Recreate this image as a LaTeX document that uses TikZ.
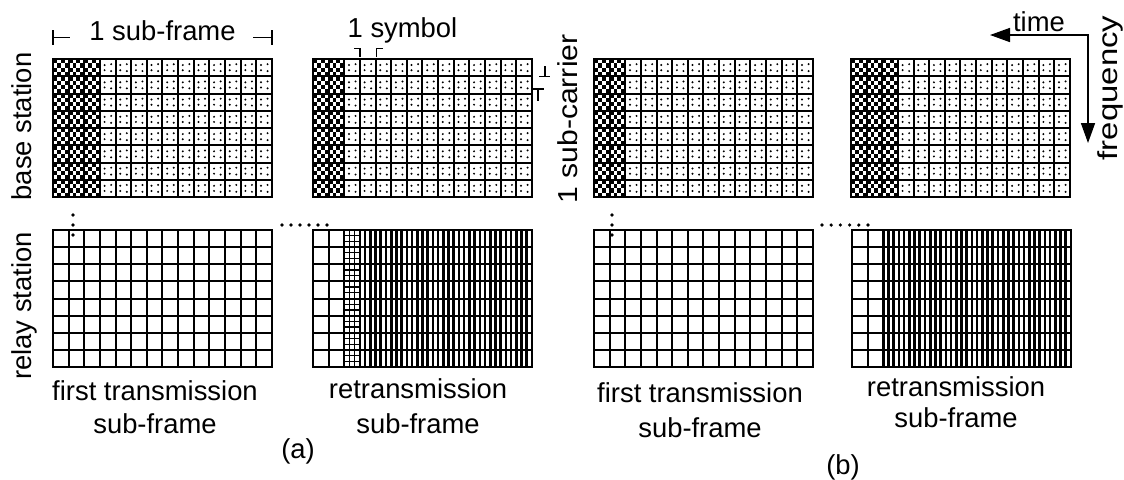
\documentclass[tikz,border=0pt]{standalone}
\usepackage{fontspec}
\setmainfont{Liberation Sans}
\usetikzlibrary{arrows.meta}

\begin{document}
\begin{tikzpicture}[x=0.5pt,y=-0.5pt,
  cell/.style={line width=1pt},
  fine/.style={line width=0.6pt},
  dense/.style={line width=1.3pt},
  spanline/.style={line width=0.8pt},
  axis/.style={line width=0.8pt,line cap=rect,-{Triangle[length=10pt,width=7pt]}},
  lbl/.style={font=\fontsize{13.7}{16}\selectfont,inner sep=0pt}]
\useasboundingbox (0,0) rectangle (1124,479);
\def\cw{15.64}

% base station sub-frames: left edge / control symbols
\foreach \gx/\nc in {53/3,313/2,594/2,851/3}{
  \pgfmathtruncatemacro\nq{4*\nc-1}
  \foreach \i in {0,...,\nq}
    \foreach \j in {0,...,31}{
      \pgfmathtruncatemacro\odd{mod(\i+\j,2)}
      \ifnum\odd=0
        \fill (\gx+\i*\cw/4,59+\j*17.25/4) rectangle ++(\cw/4,17.25/4);
      \fi}
  \foreach \c in {\nc,...,13}
    \foreach \r in {0,...,7}
      \foreach \u/\v in {0.3/0.35,0.3/0.65,0.72/0.3,0.72/0.7}
        \fill (\gx+\c*\cw+\u*\cw,59+\r*17.25+\v*17.25) circle (0.55pt);
  \foreach \c in {0,...,14} \draw[cell] (\gx+\c*\cw,59) -- (\gx+\c*\cw,197);
  \foreach \r in {0,...,8} \draw[cell] (\gx,59+\r*17.25) -- (\gx+219,59+\r*17.25);
  \draw[cell] (\gx,59) rectangle (\gx+219,197);
}

% relay station sub-frames
\foreach \gx in {53,313,594,852}{
  \foreach \c in {0,...,14} \draw[cell] (\gx+\c*\cw,230) -- (\gx+\c*\cw,367);
  \foreach \r in {0,...,8} \draw[cell] (\gx,230+\r*17.125) -- (\gx+219,230+\r*17.125);
  \draw[cell] (\gx,230) rectangle (\gx+219,367);
}

% (a) retransmission: one split symbol, then dense symbols
\foreach \k in {1,2} \draw[fine] (313+2*\cw+\k*\cw/3,230) -- (313+2*\cw+\k*\cw/3,367);
\foreach \k in {1,...,23} \draw[fine] (313+2*\cw,230+\k*17.125/3) -- (313+3*\cw,230+\k*17.125/3);
\foreach \c in {3,...,13}
  \foreach \k in {0,1,2} \draw[dense] (313+\c*\cw+\k*\cw/3,230) -- (313+\c*\cw+\k*\cw/3,367);

% (b) retransmission
\foreach \c in {2,...,13}
  \foreach \k in {0,1,2} \draw[dense] (852+\c*\cw+\k*\cw/3,230) -- (852+\c*\cw+\k*\cw/3,367);

% continuation dots
\foreach \y in {215,225,235} {
  \fill (73,\y) circle (0.9pt);
  \fill (612,\y) circle (0.9pt);
}
\foreach \k in {0,...,5} {
  \fill (282+\k*9,225) circle (0.9pt);
  \fill (822+\k*9.2,225) circle (0.9pt);
}

% sub-frame span
\node[lbl,anchor=base] (sf) at (162.5,40) {1 sub-frame};
\draw[spanline] (53,30) -- (53,45) (53,37.5) -- (70,37.5);
\draw[spanline] (272,30) -- (272,45) (272,37.5) -- (253,37.5);

% symbol span
\node[lbl,anchor=base] (sym) at (402.5,37) {1 symbol};
\draw[spanline] (354,48.3) -- (360,48.3) -- (360,57);
\draw[spanline] (383,48.3) -- (376.5,48.3) -- (376.5,57);

% sub-carrier span
\node[lbl,anchor=base,rotate=90,xscale=1.1] (sc) at (577,119) {1 sub-carrier};
\draw[spanline] (539,76.5) -- (550,76.5) (545,76.5) -- (545,66);
\draw[spanline] (533,89) -- (544,89) (538,89) -- (538,101);

% axes
\coordinate (corner) at (1088,35);
\coordinate (tdir) at (990,35);
\coordinate (fdir) at (1088,143);
\draw[axis] (corner) -- (tdir);
\draw[axis] (corner) -- (fdir);
\node[lbl,anchor=base] (time) at (1039,31) {time};
\node[lbl,anchor=base,rotate=90,xscale=1.2] (freq) at (1117,88) {frequency};

% row labels
\node[lbl,anchor=base,rotate=90] (bs) at (32,126.5) {base station};
\node[lbl,anchor=base,rotate=90] (rs) at (32,306) {relay station};

% captions
\node[lbl,anchor=base] (a1) at (155,400) {first transmission};
\node[lbl,anchor=base] (a2) at (155,433) {sub-frame};
\node[lbl,anchor=base] (a3) at (418,398) {retransmission};
\node[lbl,anchor=base] (a4) at (418,433) {sub-frame};
\node[lbl,anchor=base] (b1) at (700,402) {first transmission};
\node[lbl,anchor=base] (b2) at (700,437) {sub-frame};
\node[lbl,anchor=base] (b3) at (956,396) {retransmission};
\node[lbl,anchor=base] (b4) at (956,427) {sub-frame};
\node[lbl,anchor=base] (pa) at (298,458) {(a)};
\node[lbl,anchor=base] (pb) at (843,474) {(b)};
\end{tikzpicture}
\end{document}
